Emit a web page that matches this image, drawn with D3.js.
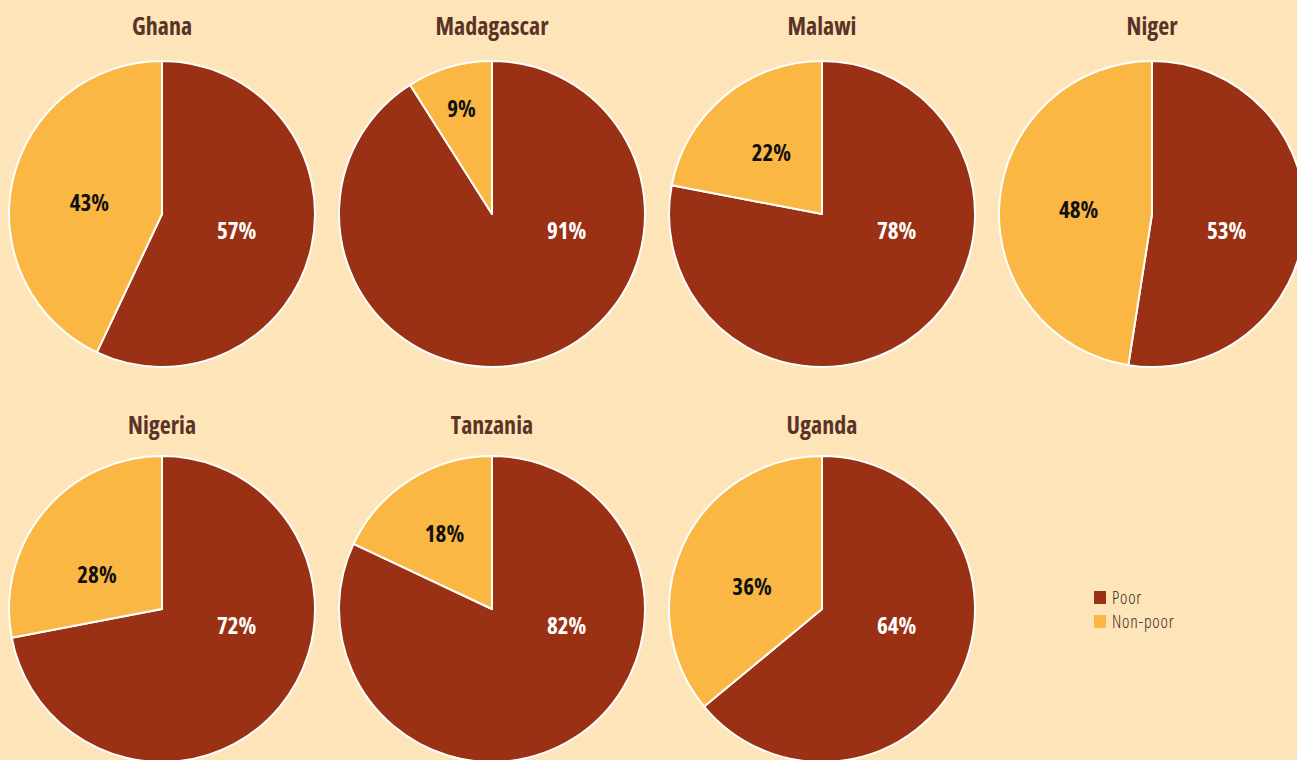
<!DOCTYPE html>
<html><head><meta charset="utf-8">
<script src="https://cdn.jsdelivr.net/npm/d3@7"></script>
<style>
html,body{margin:0;padding:0;background:#FEE4B9;}
svg{display:block;}
text{font-family:"Open Sans","Noto Sans",sans-serif;font-stretch:condensed;}
</style></head><body>
<svg id="chart" width="1297" height="760"></svg>
<script>
const countries = ["Ghana","Madagascar","Malawi","Niger","Nigeria","Tanzania","Uganda"];
const poor      = [57, 91, 78, 53, 72, 82, 64];
const nonPoor   = [43,  9, 22, 48, 28, 18, 36];
const seriesNames = ["Poor","Non-poor"];
const colors = ["#9B3114","#FBB743"];

const W = 1297, H = 760;
const svg = d3.select("#chart");
svg.append("rect").attr("width",W).attr("height",H).attr("fill","#FEE4B9");

const R = 153;
const col = d3.scaleBand().domain(d3.range(4)).range([-3, 1317]);
const row = d3.scaleBand().domain(d3.range(2)).range([17, 807]);
const pie = d3.pie().sort(null).value(d => d.v);
const arc = d3.arc().innerRadius(0).outerRadius(R);

countries.forEach((c, i) => {
  const ri = Math.floor(i/4);
  const cx = col(i % 4) + col.bandwidth()/2;
  const cy = row(ri) + 197;
  const g = svg.append("g").attr("transform", `translate(${cx},${cy})`);
  const data = [{k:0, v:poor[i], lab:poor[i]}, {k:1, v:nonPoor[i], lab:nonPoor[i]}];
  const arcs = pie(data);
  g.selectAll("path").data(arcs).enter().append("path")
    .attr("d", arc).attr("fill", d => colors[d.data.k])
    .attr("stroke", "#fff").attr("stroke-width", 2).attr("stroke-linejoin","round");
  arcs.forEach(a => {
    let ang, rr;
    if (a.data.k === 0) { ang = 103 * Math.PI/180; rr = R*0.5; }
    else {
      const frac = (a.endAngle - a.startAngle)/(2*Math.PI);
      ang = (a.startAngle + a.endAngle)/2;
      if (frac >= 0.25) ang = ang - 0.3*(ang - 1.5*Math.PI);
      rr = R * Math.max(0.48, 0.85 - 1.5*frac);
    }
    g.append("text")
      .attr("x", rr*Math.sin(ang)).attr("y", -rr*Math.cos(ang))
      .attr("dy","0.36em").attr("text-anchor","middle")
      .attr("font-size", 23).attr("font-weight", 700)
      .attr("fill", a.data.k === 0 ? "#fff" : "#111")
      .text(a.data.lab + "%");
  });
  svg.append("text").attr("x", cx).attr("y", cy - 179 + ri*4)
    .attr("text-anchor","middle").attr("font-size", 24).attr("font-weight", 700)
    .attr("fill", "#5A3327").text(c);
});

// legend
const lg = svg.append("g").attr("transform","translate(1094,591)");
seriesNames.forEach((s, j) => {
  lg.append("rect").attr("x",0).attr("y", j*24).attr("width",12).attr("height",13).attr("fill",colors[j]);
  lg.append("text").attr("x",18).attr("y", j*24+7).attr("dy","0.36em")
    .attr("font-size",17.5).attr("font-weight",300).attr("letter-spacing","0.8px")
    .attr("fill","#3b2a20").text(s);
});
</script>
</body></html>
